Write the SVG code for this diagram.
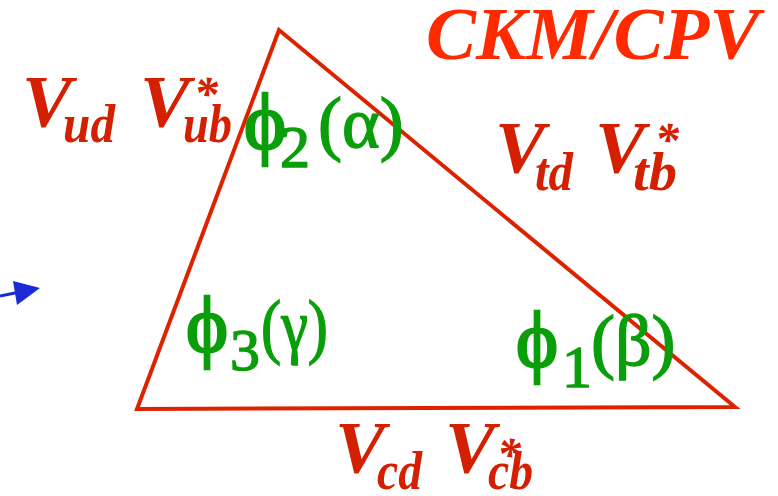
<svg xmlns="http://www.w3.org/2000/svg" width="778" height="496" viewBox="0 0 778 496">
<style>
.lab{font-family:"Liberation Serif","Times New Roman",serif;font-weight:bold;font-style:italic;fill:#d42000}
.big{font-size:75px}
.sub{font-size:54px}
.st{font-size:48px}
.ang{font-family:"Liberation Serif","Times New Roman",serif;fill:#0a9e0a;stroke:#0a9e0a;stroke-width:1.4}
.ag{font-size:72px}
.ph{font-size:80px;stroke-width:2.4}
.as{font-size:60px}
</style>
<rect width="778" height="496" fill="#ffffff"/>
<g id="connectors">
<polygon id="triangle" points="279,30 137,409 735,407" fill="none" stroke="#dd2200" stroke-width="4" stroke-linejoin="miter"/>
<line x1="0" y1="296" x2="20" y2="292" stroke="#1a2ad4" stroke-width="3"/>
<polygon points="13,281 40,288 17,305" fill="#1a2ad4"/>
</g>
<g id="title"><text class="lab big" x="426" y="59" style="fill:#ff2a00">CKM/CPV</text></g>
<g id="side-ud-ub">
<text class="lab big" x="22" y="127">V</text>
<text class="lab sub" x="63" y="142" textLength="52" lengthAdjust="spacingAndGlyphs">ud</text>
<text class="lab big" x="140" y="127">V</text>
<text class="lab st" x="194" y="110">*</text>
<text class="lab sub" x="183" y="142" textLength="49" lengthAdjust="spacingAndGlyphs">ub</text>
</g>
<g id="side-td-tb">
<text class="lab big" x="495" y="173">V</text>
<text class="lab sub" x="535" y="190" textLength="38" lengthAdjust="spacingAndGlyphs">td</text>
<text class="lab big" x="595" y="173">V</text>
<text class="lab st" x="655" y="156">*</text>
<text class="lab sub" x="633" y="190" textLength="44" lengthAdjust="spacingAndGlyphs">tb</text>
</g>
<g id="side-cd-cb">
<text class="lab big" x="335" y="473">V</text>
<text class="lab sub" x="377" y="489" textLength="45" lengthAdjust="spacingAndGlyphs">cd</text>
<text class="lab big" x="445" y="473">V</text>
<text class="lab st" x="497" y="471">*</text>
<text class="lab sub" x="488" y="489" textLength="45" lengthAdjust="spacingAndGlyphs">cb</text>
</g>
<g id="angle-phi2">
<text class="ang ph" x="244" y="149">ϕ</text>
<text class="ang as" x="280" y="167">2</text>
<text class="ang ag" x="318" y="147">(α)</text>
</g>
<g id="angle-phi3">
<text class="ang ph" x="186" y="352">ϕ</text>
<text class="ang as" x="230" y="370">3</text>
<text class="ang ag" x="261" y="350" textLength="67" lengthAdjust="spacingAndGlyphs">(γ)</text>
</g>
<g id="angle-phi1">
<text class="ang ph" x="516" y="367">ϕ</text>
<text class="ang as" x="562" y="387">1</text>
<text class="ang ag" x="591" y="365">(β)</text>
</g>
</svg>
